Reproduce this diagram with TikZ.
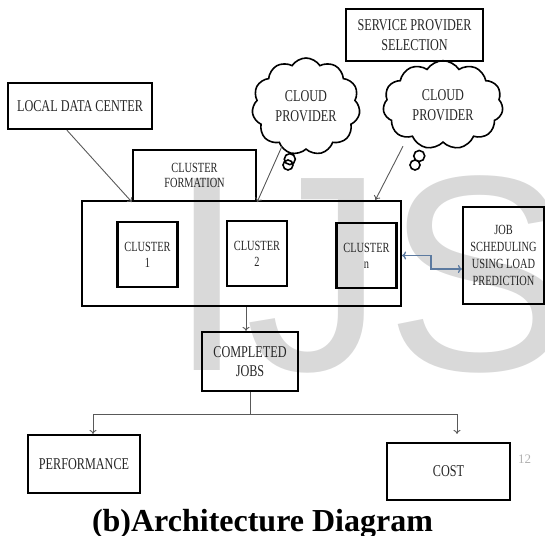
\documentclass[tikz,border=0pt]{standalone}
\usepackage{fontspec}
\setmainfont{Liberation Serif}
\newfontfamily\boxfont{Liberation Serif}[FakeStretch=0.74]
\newfontfamily\markfont{Liberation Sans}
\usetikzlibrary{arrows.meta,calc,shapes.symbols,shapes.callouts}
\tikzset{box/.style={draw, line width=2.2pt, inner sep=0pt, align=center, text=black!85,
      font={\boxfont\fontsize{16.5}{20}\selectfont}},
  smallbox/.style={box, font={\boxfont\fontsize{14}{15.5}\selectfont}},
  clusterbox/.style={box, minimum width=60, minimum height=65,
      font={\boxfont\fontsize{14}{16}\selectfont}},
  cloudbox/.style={cloud callout, draw, line width=1.6pt, cloud puffs=11, cloud puff arc=115,
      aspect=1.1, inner sep=0pt, align=center, text=black!85,
      callout pointer segments=2, callout pointer start size=9pt and 12pt,
      callout pointer end size=8pt and 10pt,
      font={\boxfont\fontsize{16.5}{20}\selectfont}},
  conn/.style={draw=black!65, line width=0.9pt, -{To[length=4pt,width=7pt]}},
  dblconn/.style={draw={rgb,255:red,92;green,122;blue,160}, line width=1.3pt,
      {To[length=4pt,width=8pt]}-{To[length=4pt,width=8pt]}}}

\begin{document}
\begin{tikzpicture}[x=1pt,y=-1pt]
  \useasboundingbox (0,0) rectangle (545,535);
  % watermark
  \begin{scope}
    \clip (0,0) rectangle (545,535);
    \node[anchor=base west, inner sep=0pt, text=black!15,
      font={\markfont\fontsize{279}{279}\selectfont}] (mark) at (168,370) {IJS};
  \end{scope}

  \node[box, minimum width=137, minimum height=52] (sps) at (414.5,35) {SERVICE PROVIDER\\SELECTION};
  \node[box, minimum width=144, minimum height=46] (ldc) at (80,106) {LOCAL DATA CENTER};
  \node[cloudbox, minimum width=108, minimum height=97,
    callout absolute pointer={(288,165)}] (cloud1) at (306,106.5) {CLOUD\\PROVIDER};
  \node[cloudbox, minimum width=120, minimum height=86,
    callout absolute pointer={(415,165)}] (cloud2) at (443,105) {CLOUD\\PROVIDER};
  \node[smallbox, minimum width=123, minimum height=51] (cf) at (194.5,175.5) {CLUSTER\\FORMATION};

  % clusters
  \node[box, minimum width=319, minimum height=105] (group) at (241.5,253.5) {};
  \node[clusterbox] (c1) at (147.5,254.5) {CLUSTER\\1};
  \node[clusterbox] (c2) at (257,253.5) {CLUSTER\\2};
  \node[clusterbox] (cn) at (366.5,255.5) {CLUSTER\\n};
  \node[smallbox, minimum width=81, minimum height=97,
    font={\boxfont\fontsize{14}{17}\selectfont}] (job) at (503.5,255.5) {JOB\\SCHEDULING\\USING LOAD\\PREDICTION};

  \node[box, minimum width=96, minimum height=59,
    font={\boxfont\fontsize{16.5}{19}\selectfont}] (cj) at (250,361.5) {COMPLETED\\JOBS};
  \node[box, minimum width=112, minimum height=58] (perf) at (84,464) {PERFORMANCE};
  \node[box, minimum width=123, minimum height=57] (cost) at (448.5,471.5) {COST};

  \node[text=black!30, inner sep=0pt, font=\fontsize{13}{13}\selectfont] (pagenum) at (524.5,459.5) {12};
  \node[anchor=base, inner sep=0pt, font={\bfseries\fontsize{32}{32}\selectfont}] (caption) at (262.5,531) {(b)Architecture Diagram};

  % connectors
  \draw[conn] ($(ldc.south west)!0.41!(ldc.south east)$) -- (cf.south west);
  \draw[conn] ($(cloud1.south)+(-24,-4)$) -- (cf.south east);
  \draw[conn] ($(cloud2.south)+(-40,3)$) -- ($(group.north west)!0.917!(group.north east)$);
  \draw[dblconn] (cn.east -| group.east) -- ++(29,0) |- ($(job.west)+(0,13.5)$);
  \draw[conn] ($(group.south)+(4.5,0)$) -- ($(cj.north)+(-4,0)$);
  \draw[draw=black!65, line width=0.9pt] (cj.south) -- ++(0,22) coordinate (split);
  \draw[conn] (split) -| ($(perf.north)+(9,0)$);
  \draw[conn] (split) -| ($(cost.north)+(8.5,-8)$);
\end{tikzpicture}
\end{document}
